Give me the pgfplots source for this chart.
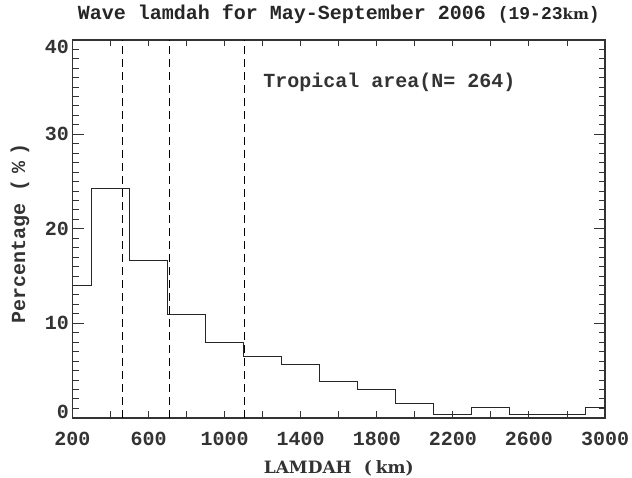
\documentclass[border=0pt]{standalone}
\usepackage{fontspec}
\setmainfont{Liberation Serif}
\setmonofont{Liberation Mono}
\newfontfamily\dvserif{DejaVu Serif}
\usepackage{pgfplots}
\pgfplotsset{compat=1.18}
\definecolor{txt}{gray}{0.2}
\newcommand{\mono}{\fontsize{20}{24}\selectfont\ttfamily\bfseries}
\begin{document}
\begin{tikzpicture}
\path[use as bounding box] (0,0) rectangle (632pt,478pt);
\begin{axis}[
  at={(72.5pt,60.2pt)}, anchor=south west,
  scale only axis, width=532.5pt, height=378pt,
  xmin=200, xmax=3000, ymin=0, ymax=40,
  axis line style={line width=1.5pt, black!80},
  tick align=inside,
  xtick={200,600,...,3000},
  xticklabels={200,600,1000,1400,1800,2200,2600,3000},
  minor xtick={200,400,...,3000},
  major x tick style={draw=none},
  ytick={0,10,20,30,40},
  yticklabels={\raisebox{6pt}[\height][\depth]{0},10,20,30,\raisebox{-7pt}[\height][\depth]{40}},
  minor ytick={0,1,...,40},
  major tick length=11pt, minor tick length=6.5pt,
  tick style={line width=0.9pt, black!80},
  xticklabel style={font=\mono, text=txt, yshift=-11pt},
  yticklabel style={font=\mono, text=txt},
  title={{\mono Wave lamdah for May-September 2006 }{\fontsize{18}{20}\selectfont\ttfamily\bfseries(19-23}{\fontsize{15}{20}\selectfont\dvserif\bfseries km}{\fontsize{18}{20}\selectfont\ttfamily\bfseries)}},
  title style={at={(axis description cs:0.5,1)}, anchor=base, yshift=13.8pt, text=black!85},
  xlabel={LAMDAH\hspace{12pt}(\hspace{4pt}km)},
  xlabel style={font=\fontsize{17}{20}\selectfont\dvserif\bfseries, text=txt, at={(axis description cs:0.5,0)}, anchor=base, yshift=-55.5pt},
  ylabel={Percentage (\hspace{6pt}\%\hspace{6pt})},
  ylabel style={font=\mono, text=txt, at={(axis description cs:0,0.5)}, anchor=center, yshift=52.5pt, xshift=-5pt},
  clip=false,
]
\addplot[const plot mark left, line width=1pt, black!85] coordinates {
  (200,14.02) (300,24.24) (500,16.67) (700,10.98) (900,7.95) (1100,6.44)
  (1300,5.68) (1500,3.79) (1700,3.03) (1900,1.52) (2100,0.38) (2300,1.14)
  (2500,0.38) (2700,0.38) (2900,1.14) (3000,1.14)
};
\addplot[line width=0.9pt, black, dash pattern=on 8pt off 5pt] coordinates {(465,0) (465,40)};
\addplot[line width=0.9pt, black, dash pattern=on 8pt off 5pt] coordinates {(710,0) (710,40)};
\addplot[line width=0.9pt, black, dash pattern=on 8pt off 5pt] coordinates {(1105,0) (1105,40)};
\node[anchor=base west, font=\mono, text=txt, inner sep=0pt] at (axis cs:1202,34.9) {Tropical area(N= 264)};
\end{axis}
\end{tikzpicture}
\end{document}
